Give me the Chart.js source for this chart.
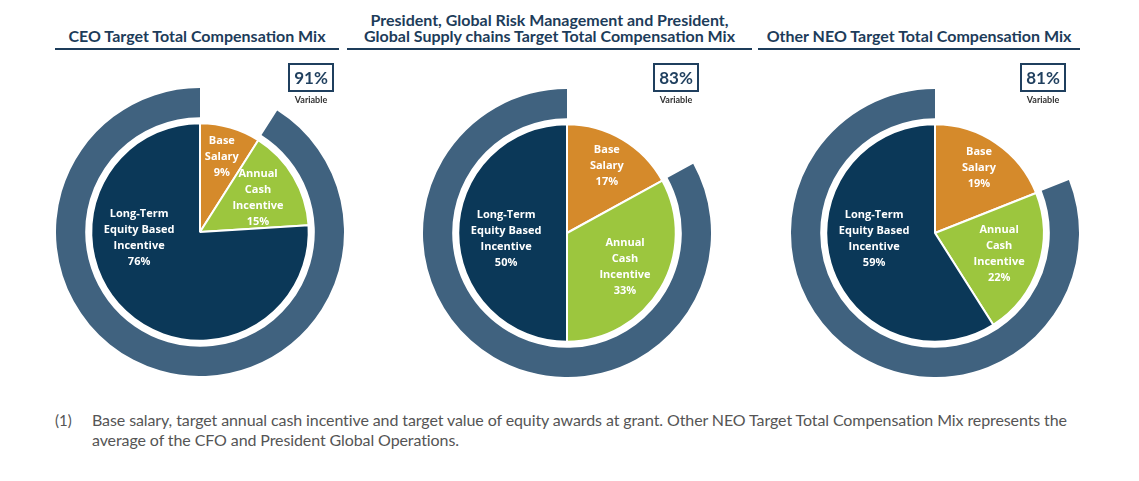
<!DOCTYPE html>
<html>
<head>
<meta charset="utf-8">
<script src="https://cdn.jsdelivr.net/npm/chart.js@4"></script>
<style>
  body { margin: 0; background: #fff; width: 1139px; height: 481px; position: relative; overflow: hidden; font-family: Lato, "Open Sans", sans-serif; }
  .title { position: absolute; color: #1d3c5a; font-weight: 700; font-size: 16px; line-height: 16px; text-align: center; border-bottom: 2px solid #1d3c5a; padding-bottom: 4px; white-space: nowrap; }
  .pie { position: absolute; }
  .box { position: absolute; width: 46px; text-align: center; }
  .box .pct { border: 2px solid #1f3f5e; color: #1f3f5e; font-weight: 700; font-size: 17px; line-height: 25px; }
  .box .var { color: #333; font-weight: 700; font-size: 9px; margin-top: 2px; }
  .note { position: absolute; left: 55px; top: 410px; width: 1030px; color: #555; font-size: 16px; line-height: 20px; }
  .note span { position: absolute; left: 0; font-size: 15px; }
  .note p { margin: 0 0 0 37px; letter-spacing: -0.1px; }
</style>
</head>
<body>
<div class="title" style="left:55px; top:28px; width:284px;">CEO Target Total Compensation Mix</div>
<div class="title" style="left:347px; top:12px; width:405px;">President, Global Risk Management and President,<br>Global Supply chains Target Total Compensation Mix</div>
<div class="title" style="left:758px; top:28px; width:322px;">Other NEO Target Total Compensation Mix</div>

<canvas class="pie" id="pie0" width="288" height="288" style="left:56px; top:88px;"></canvas>
<canvas class="pie" id="pie1" width="288" height="288" style="left:423px; top:89px;"></canvas>
<canvas class="pie" id="pie2" width="288" height="288" style="left:791px; top:89px;"></canvas>

<div class="box" style="left:288px; top:63px;"><div class="pct" id="v0"></div><div class="var">Variable</div></div>
<div class="box" style="left:653px; top:63px;"><div class="pct" id="v1"></div><div class="var">Variable</div></div>
<div class="box" style="left:1020px; top:63px;"><div class="pct" id="v2"></div><div class="var">Variable</div></div>

<div class="note"><span>(1)</span><p>Base salary, target annual cash incentive and target value of equity awards at grant. Other NEO Target Total Compensation Mix represents the average of the CFO and President Global Operations.</p></div>

<script>
const titles = ['CEO', 'President GRM / GSC', 'Other NEO'];
const sliceNames = [['Base', 'Salary'], ['Annual', 'Cash', 'Incentive'], ['Long-Term', 'Equity Based', 'Incentive']];
const baseSalary = [9, 17, 19];
const annualCash = [15, 33, 22];
const longTerm = [76, 50, 59];
const variablePay = [91, 83, 81];

const sliceColors = ['#d58a2b', '#9cc63e', '#0b3858'];
const ringColor = '#40627f';

// puts the labels inside the slices
const sliceLabels = {
  id: 'sliceLabels',
  afterDatasetsDraw(chart) {
    const ctx = chart.ctx;
    const meta = chart.getDatasetMeta(2);
    ctx.save();
    ctx.fillStyle = '#fff';
    ctx.font = 'bold 11px "Open Sans", sans-serif';
    ctx.textAlign = 'center';
    ctx.textBaseline = 'middle';
    meta.data.forEach((arc, i) => {
      const p = arc.getProps(['x', 'y', 'startAngle', 'endAngle', 'outerRadius']);
      let a = (p.startAngle + p.endAngle) / 2;
      let r = p.outerRadius * (i === 0 ? 0.72 : 0.62);
      if (i === 2) { a = Math.PI; r = p.outerRadius * 0.56; }
      const cx = p.x + Math.cos(a) * r;
      const cy = p.y + Math.sin(a) * r + (i === 2 ? 6 : 0);
      const lines = sliceNames[i].concat([chart.data.datasets[2].data[i] + '%']);
      const lh = 16;
      lines.forEach((t, k) => {
        ctx.fillText(t, cx, cy + (k - (lines.length - 1) / 2) * lh);
      });
    });
    ctx.restore();
  }
};

for (let n = 0; n < 3; n++) {
  document.getElementById('v' + n).textContent = variablePay[n] + '%';
  new Chart(document.getElementById('pie' + n), {
    type: 'doughnut',
    data: {
      labels: ['Base Salary', 'Annual Cash Incentive', 'Long-Term Equity Based Incentive'],
      datasets: [
        { data: [100 - variablePay[n], variablePay[n]], backgroundColor: ['rgba(0,0,0,0)', ringColor], borderWidth: 0, weight: 29 },
        { data: [100], backgroundColor: ['rgba(0,0,0,0)'], borderWidth: 0, weight: 6 },
        { data: [baseSalary[n], annualCash[n], longTerm[n]], backgroundColor: sliceColors, borderColor: '#fff', borderWidth: 2, weight: 108 }
      ]
    },
    options: {
      responsive: false,
      animation: false,
      cutout: 0,
      layout: { padding: 0 },
      plugins: { legend: { display: false }, tooltip: { enabled: false }, title: { display: false, text: titles[n] } }
    },
    plugins: [sliceLabels]
  });
}
</script>
</body>
</html>
